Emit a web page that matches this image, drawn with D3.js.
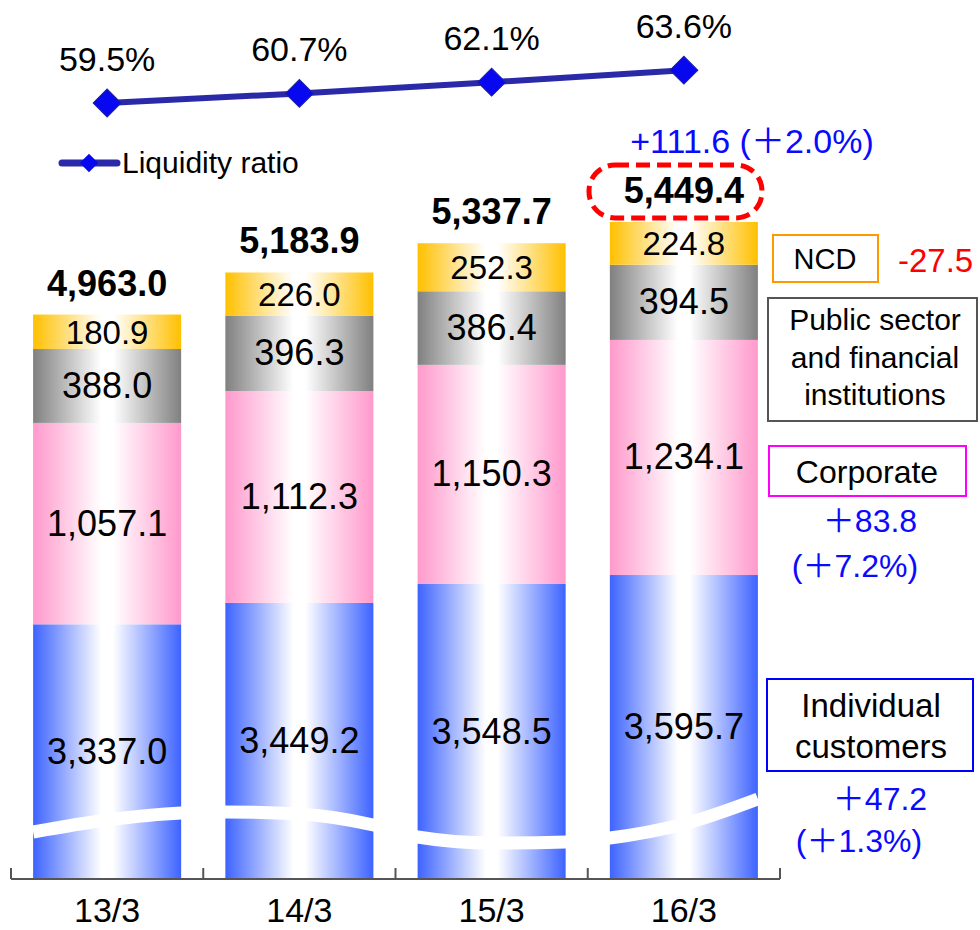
<!DOCTYPE html>
<html>
<head>
<meta charset="utf-8">
<script src="https://cdn.jsdelivr.net/npm/d3@7"></script>
<style>
  body { margin: 0; background: #fff; }
  svg text { font-family: "Liberation Sans", Arial, "Noto Sans CJK JP", sans-serif; }
</style>
</head>
<body>
<svg id="chart"></svg>
<script>
// deposits by customer type (bn yen) and liquidity ratio
const categories = ["13/3", "14/3", "15/3", "16/3"];
const individual = [3337.0, 3449.2, 3548.5, 3595.7];
const corporate = [1057.1, 1112.3, 1150.3, 1234.1];
const publicSector = [388.0, 396.3, 386.4, 394.5];
const ncd = [180.9, 226.0, 252.3, 224.8];
const totals = [4963.0, 5183.9, 5337.7, 5449.4];
const liquidity = [59.5, 60.7, 62.1, 63.6];
const liquidityLabels = ["59.5%", "60.7%", "62.1%", "63.6%"];
const segmentKeys = ["individual", "corporate", "publicSector", "ncd"];

class DepositChart {

    constructor(_config) {
        this.config = {
            parentElement: _config.parentElement,
            containerWidth: _config.containerWidth || 980,
            containerHeight: _config.containerHeight || 930,
        };
        this.initVis();
    }

    initVis() {
        let vis = this;
        vis.svg = d3.select(vis.config.parentElement)
            .attr('width', vis.config.containerWidth)
            .attr('height', vis.config.containerHeight);

        // bars start at 2,000 (axis is broken, white wave drawn on the blue segment)
        vis.x = d3.scaleBand().domain(categories).range([11, 780]).padding(0);
        vis.barW = vis.x.bandwidth() * 0.77;
        vis.y = d3.scaleLinear().domain([2000, 6000]).range([879, 117]).clamp(true);
        vis.yLine = d3.scaleLinear().domain([55, 65]).range([139, 59]);

        vis.colors = {
            individual: "#3d63ff",
            corporate: "#ff99cc",
            publicSector: "#808080",
            ncd: "#ffc000"
        };

        const defs = vis.svg.append('defs');
        segmentKeys.forEach(k => {
            const g = defs.append('linearGradient')
                .attr('id', 'grad-' + k)
                .attr('x1', 0).attr('x2', 1).attr('y1', 0).attr('y2', 0);
            g.append('stop').attr('offset', '0%').attr('stop-color', vis.colors[k]);
            g.append('stop').attr('offset', '46%').attr('stop-color', '#ffffff');
            g.append('stop').attr('offset', '54%').attr('stop-color', '#ffffff');
            g.append('stop').attr('offset', '100%').attr('stop-color', vis.colors[k]);
        });

        vis.update();
    }

    update() {
        let vis = this;
        vis.data = categories.map((c, i) => ({
            cat: c,
            individual: individual[i],
            corporate: corporate[i],
            publicSector: publicSector[i],
            ncd: ncd[i],
            total: totals[i],
            ratio: liquidity[i],
            ratioLabel: liquidityLabels[i]
        }));
        vis.stacked = d3.stack().keys(segmentKeys)(vis.data);
        vis.render();
    }

    render() {
        let vis = this;
        const cx = d => vis.x(d.cat) + vis.x.bandwidth() / 2;

        // stacked bars
        const layers = vis.svg.append('g').selectAll('g')
            .data(vis.stacked)
            .join('g')
            .attr('fill', d => `url(#grad-${d.key})`);

        layers.selectAll('rect')
            .data(d => d.map(s => ({ key: d.key, s: s })))
            .join('rect')
            .attr('x', d => vis.x(d.s.data.cat) + (vis.x.bandwidth() - vis.barW) / 2)
            .attr('width', vis.barW)
            .attr('y', d => vis.y(d.s[1]))
            .attr('height', d => vis.y(d.s[0]) - vis.y(d.s[1]));

        // white wave marking the axis break
        const breakOffsets = [[47, 59, 66], [67, 65, 54], [42, 36, 37], [41, 55, 80]];
        const pts = [];
        categories.forEach((c, i) => {
            const left = vis.x(c) + (vis.x.bandwidth() - vis.barW) / 2;
            [0, 0.5, 1].forEach((f, j) => {
                pts.push([left + f * vis.barW, vis.y.range()[0] - breakOffsets[i][j]]);
            });
        });
        vis.svg.append('path')
            .attr('d', d3.line().curve(d3.curveMonotoneX)(pts))
            .attr('fill', 'none')
            .attr('stroke', '#fff')
            .attr('stroke-width', 13);

        // segment labels
        layers.selectAll('text')
            .data(d => d.map(s => ({ key: d.key, s: s })))
            .join('text')
            .attr('x', d => cx(d.s.data))
            .attr('y', d => (vis.y(d.s[0]) + vis.y(d.s[1])) / 2 + 12)
            .attr('text-anchor', 'middle')
            .attr('fill', '#000')
            .style('font-size', d => d.key === 'ncd' ? '33px' : '36px')
            .text(d => d3.format(",.1f")(d.s.data[d.key]));

        // totals
        vis.svg.append('g').selectAll('text')
            .data(vis.data)
            .join('text')
            .attr('x', d => cx(d))
            .attr('y', d => vis.y(d3.sum(segmentKeys, k => d[k])) - 19)
            .attr('text-anchor', 'middle')
            .style('font-size', '36px')
            .style('font-weight', 'bold')
            .text(d => d3.format(",.1f")(d.total));

        // x axis
        const axisY = vis.y.range()[0];
        const ax = vis.svg.append('g').attr('stroke', '#555').attr('stroke-width', 2);
        ax.append('line')
            .attr('x1', vis.x.range()[0]).attr('x2', vis.x.range()[1])
            .attr('y1', axisY).attr('y2', axisY);
        ax.selectAll('.tick')
            .data(categories.map(c => vis.x(c)).concat([vis.x.range()[1]]))
            .join('line')
            .attr('x1', d => d).attr('x2', d => d)
            .attr('y1', axisY - 11).attr('y2', axisY);
        vis.svg.append('g').selectAll('text')
            .data(categories)
            .join('text')
            .attr('x', d => vis.x(d) + vis.x.bandwidth() / 2)
            .attr('y', 922)
            .attr('text-anchor', 'middle')
            .style('font-size', '34px')
            .text(d => d);

        // liquidity ratio line
        const line = d3.line().x(d => cx(d)).y(d => vis.yLine(d.ratio));
        vis.svg.append('path')
            .attr('d', line(vis.data))
            .attr('fill', 'none')
            .attr('stroke', '#2a2aa8')
            .attr('stroke-width', 6);
        const diamond = d3.symbol().type(d3.symbolSquare);
        vis.svg.append('g').selectAll('path')
            .data(vis.data)
            .join('path')
            .attr('d', diamond.size(390)())
            .attr('transform', d => `translate(${cx(d)},${vis.yLine(d.ratio)}) rotate(45)`)
            .attr('fill', '#0808f0')
            .attr('stroke', '#2020a0')
            .attr('stroke-width', 1);
        vis.svg.append('g').selectAll('text')
            .data(vis.data)
            .join('text')
            .attr('x', d => cx(d))
            .attr('y', d => vis.yLine(d.ratio) - 32)
            .attr('text-anchor', 'middle')
            .style('font-size', '34px')
            .text(d => d.ratioLabel);

        vis.legend();
        vis.annotations();
    }

    legend() {
        let vis = this;
        vis.svg.append('line')
            .attr('x1', 62).attr('x2', 117)
            .attr('y1', 163).attr('y2', 163)
            .attr('stroke', '#2a2aa8')
            .attr('stroke-width', 7)
            .attr('stroke-linecap', 'round');
        vis.svg.append('path')
            .attr('d', d3.symbol().type(d3.symbolSquare).size(170)())
            .attr('transform', 'translate(89,163) rotate(45)')
            .attr('fill', '#0808f0');
        vis.svg.append('text')
            .attr('x', 122).attr('y', 173)
            .style('font-size', '30px')
            .text('Liquidity ratio');
    }

    annotations() {
        let vis = this;

        const box = (x, y, w, h, color, lines, size, cxText, baselines) => {
            vis.svg.append('rect')
                .attr('x', x).attr('y', y).attr('width', w).attr('height', h)
                .attr('fill', '#fff')
                .attr('stroke', color)
                .attr('stroke-width', 2);
            lines.forEach((t, i) => {
                vis.svg.append('text')
                    .attr('x', cxText).attr('y', baselines[i])
                    .attr('text-anchor', 'middle')
                    .style('font-size', size)
                    .text(t);
            });
        };
        const blueText = (x, y, t, size) => {
            vis.svg.append('text')
                .attr('x', x).attr('y', y)
                .attr('text-anchor', 'middle')
                .attr('fill', '#0a0aff')
                .style('font-size', size || '32px')
                .text(t);
        };

        box(773, 235, 105, 47, '#ff9900', ['NCD'], '29px', 825, [269]);
        vis.svg.append('text')
            .attr('x', 898).attr('y', 272)
            .attr('fill', '#ff0000')
            .style('font-size', '33px')
            .text('-27.5');

        box(768, 298, 209, 123, '#555', ['Public sector', 'and financial', 'institutions'], '30px', 875, [330, 368, 405]);
        box(769, 446, 197, 50, '#ff00ff', ['Corporate'], '32px', 867, [483]);
        blueText(870, 532, '＋83.8');
        blueText(855, 577, '(＋7.2%)');

        box(767, 679, 206, 92, '#0000ff', ['Individual', 'customers'], '33px', 871, [717, 758]);
        blueText(880, 810, '＋47.2');
        blueText(859, 852, '(＋1.3%)');

        blueText(752, 153, '+111.6 (＋2.0%)', '34px');

        // highlight around the latest total
        vis.svg.append('rect')
            .attr('x', 589).attr('y', 165)
            .attr('width', 173).attr('height', 53)
            .attr('rx', 26).attr('ry', 26)
            .attr('fill', 'none')
            .attr('stroke', '#ff0000')
            .attr('stroke-width', 5)
            .attr('stroke-dasharray', '14,7');
    }
}

new DepositChart({ parentElement: '#chart', containerWidth: 980, containerHeight: 930 });
</script>
</body>
</html>
